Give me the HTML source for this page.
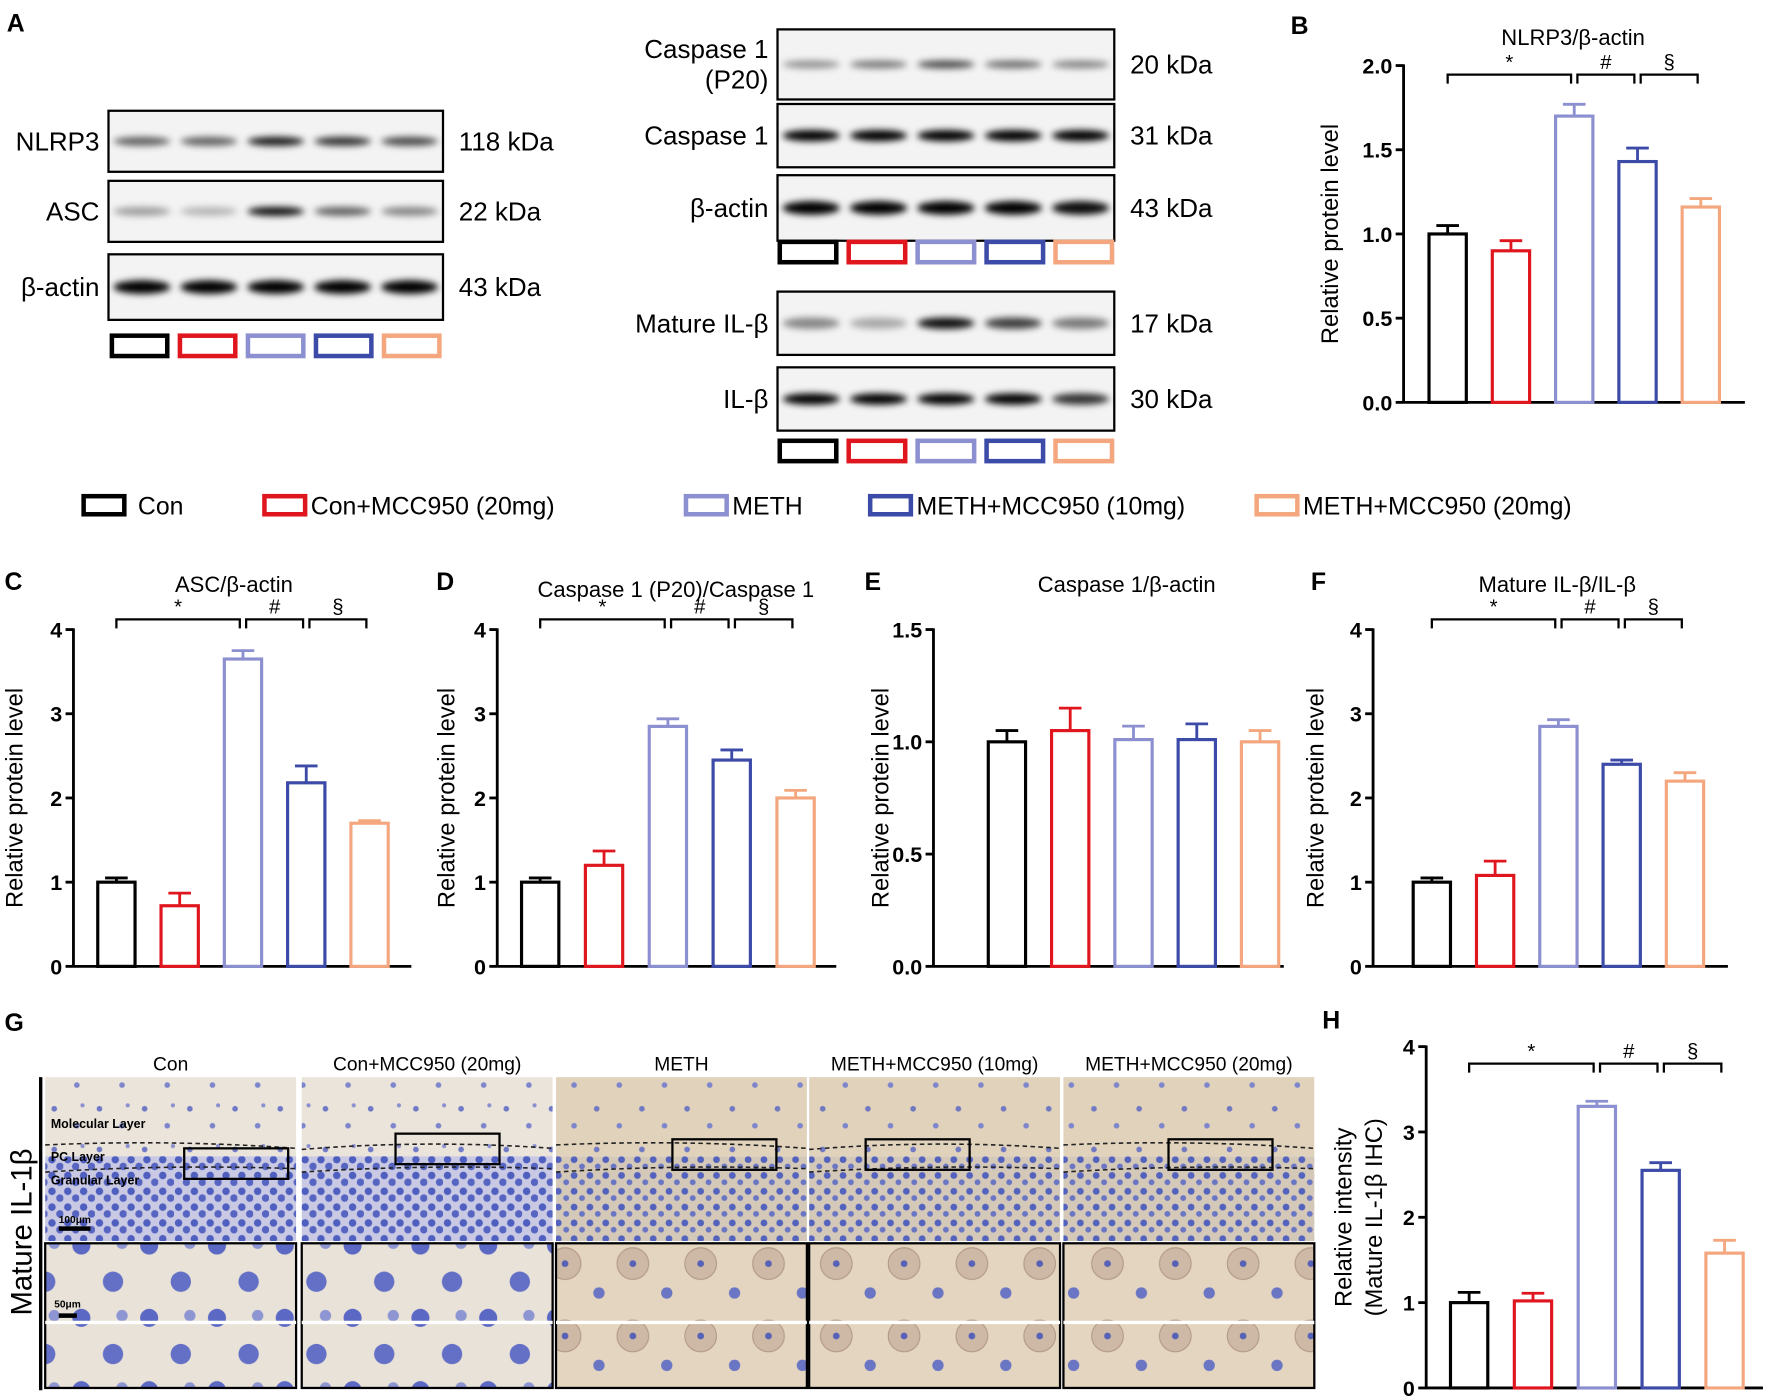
<!DOCTYPE html>
<html><head><meta charset="utf-8">
<style>
html,body{margin:0;padding:0;background:#fff;}
svg{display:block;font-family:"Liberation Sans",Arial,sans-serif;}
</style></head>
<body>
<svg id="fig" width="1772" height="1397" viewBox="0 0 1568 1236" preserveAspectRatio="none" xmlns="http://www.w3.org/2000/svg">
<defs>
<filter id="blur" x="-20%" y="-100%" width="140%" height="300%"><feGaussianBlur stdDeviation="3"/></filter>
<pattern id="sparse" width="40" height="36" patternUnits="userSpaceOnUse">
<rect width="40" height="36" fill="#ebe4da"/>
<circle cx="8" cy="9" r="2.5" fill="#6f79c6"/><circle cx="28" cy="24" r="2.5" fill="#7d86cc"/><circle cx="33" cy="6" r="1.8" fill="#8a90cf"/>
</pattern>
<pattern id="sparseM" width="40" height="36" patternUnits="userSpaceOnUse">
<rect width="40" height="36" fill="#e0d2bb"/>
<circle cx="8" cy="9" r="2.5" fill="#7079c2"/><circle cx="28" cy="24" r="2.5" fill="#7d86cc"/>
</pattern>
<pattern id="dense" width="14" height="14" patternUnits="userSpaceOnUse">
<rect width="14" height="14" fill="#c9c9e4"/>
<circle cx="4" cy="4" r="3.3" fill="#4f5fbf"/><circle cx="11" cy="10" r="3.3" fill="#5765c2"/>
</pattern>
<pattern id="denseM" width="14" height="14" patternUnits="userSpaceOnUse">
<rect width="14" height="14" fill="#d4c8b8"/>
<circle cx="4" cy="4" r="3" fill="#5262bd"/><circle cx="11" cy="10" r="2.6" fill="#6a75c4"/>
</pattern>
<pattern id="zoomC" width="60" height="64" patternUnits="userSpaceOnUse">
<rect width="60" height="64" fill="#e9e2d8"/>
<circle cx="12" cy="14" r="8" fill="#5b68c4"/><circle cx="40" cy="46" r="9" fill="#6470c6"/><circle cx="48" cy="12" r="5" fill="#8d95d2"/>
</pattern>
<pattern id="zoomM" width="60" height="64" patternUnits="userSpaceOnUse">
<rect width="60" height="64" fill="#e3d5c0"/>
<circle cx="20" cy="30" r="14" fill="#cdb9a6" stroke="#b49a86"/><circle cx="20" cy="30" r="3" fill="#5762b6"/>
<circle cx="50" cy="56" r="5" fill="#6a75c4"/>
</pattern>
</defs>
<g id="root"></g>
</svg>
<script>
// ---- data ----
const groups = ["Con","Con+MCC950 (20mg)","METH","METH+MCC950 (10mg)","METH+MCC950 (20mg)"];
const colors = ["#000000","#e0161f","#8c8fd0","#3c4aa8","#f4a77e"];
const bVals = [1.00,0.90,1.70,1.43,1.16];
const bErr  = [0.05,0.06,0.07,0.08,0.05];
const cVals = [1.00,0.72,3.65,2.18,1.70];
const cErr  = [0.05,0.15,0.10,0.20,0.03];
const dVals = [1.00,1.20,2.85,2.45,2.00];
const dErr  = [0.05,0.17,0.09,0.12,0.09];
const eVals = [1.00,1.05,1.01,1.01,1.00];
const eErr  = [0.05,0.10,0.06,0.07,0.05];
const fVals = [1.00,1.08,2.85,2.40,2.20];
const fErr  = [0.05,0.17,0.08,0.05,0.10];
const hVals = [1.00,1.02,3.30,2.55,1.58];
const hErr  = [0.12,0.09,0.06,0.09,0.15];
const ticks4 = ["0","1","2","3","4"];
const ticks2 = ["0.0","0.5","1.0","1.5","2.0"];
const ticks15 = ["0.0","0.5","1.0","1.5"];

const NS="http://www.w3.org/2000/svg";
const root=document.getElementById('root');
function el(tag,attrs,parent,text){const e=document.createElementNS(NS,tag);for(const k in attrs)e.setAttribute(k,attrs[k]);if(text!==undefined)e.textContent=text;(parent||root).appendChild(e);return e;}

function chart(cfg){
  const g=el('g',{});
  
  
  const y=v=>cfg.y0-(v/cfg.max)*(cfg.y0-cfg.yTop);
  const x=i=>cfg.x0+cfg.first+i*cfg.step;
  const ya=el('line',{x1:cfg.x0,y1:cfg.yTop-1,x2:cfg.x0,y2:cfg.y0+1,stroke:'#000','stroke-width':2.5},g);
  
  
  const xa=el('line',{x1:cfg.x0,y1:cfg.y0,x2:cfg.xEnd,y2:cfg.y0,stroke:'#000','stroke-width':2.5},g);
  
  
  cfg.ticks.forEach((t,i)=>{
    const v=i*cfg.tickStep, yy=y(v);
    el('line',{x1:cfg.x0-7,y1:yy,x2:cfg.x0,y2:yy,stroke:'#000','stroke-width':2.5},g);
    const tl=el('text',{x:cfg.x0-10,y:yy+7,'text-anchor':'end','font-size':19,'font-weight':'bold'},g,t);
    
    
  });
  cfg.vals.forEach((v,i)=>{
    const cx=x(i), hw=cfg.bw/2, top=y(v), et=y(v+cfg.err[i]);
    const b=el('rect',{x:cx-hw,y:top,width:cfg.bw,height:cfg.y0-top,fill:'none',stroke:colors[i],'stroke-width':2.8},g);
    
    
    const eb=el('path',{d:`M${cx},${top}V${et}M${cx-10},${et}H${cx+10}`,stroke:colors[i],'stroke-width':2.5,fill:'none'},g);
    
    
  });
  const tt=el('text',{x:cfg.titleX,y:cfg.titleY,'text-anchor':'middle','font-size':19.5},g,cfg.title);
  
  
  cfg.ylab.forEach((s,k)=>{
    const yx=cfg.ylabX+k*27, yc=(cfg.yTop+cfg.y0)/2;
    const yt=el('text',{x:yx,y:yc,'text-anchor':'middle','font-size':21,transform:`rotate(-90 ${yx} ${yc})`},g,s);
    
    
  });
  const pl=el('text',{x:cfg.letterX,y:cfg.letterY,'font-size':22,'font-weight':'bold'},g,cfg.letter);
  
  
  if(cfg.sig){
    const by=cfg.sigY;
    const br=(a,b,sym)=>{
      const x1=x(a),x2=x(b);
      const p=el('path',{d:`M${x1},${by+8}V${by}H${x2}V${by+8}`,stroke:'#000','stroke-width':2,fill:'none'},g);
      
      
      const s=el('text',{x:(x1+x2)/2,y:by-5,'text-anchor':'middle','font-size':18},g,sym);
      
      
    };
    br(0,1.95,'*');br(2.05,2.95,'#');br(3.05,3.95,'§');
  }
}
chart({name:'chart-b-nlrp3',letter:'B',letterX:1142,letterY:30,x0:1242,y0:356,yTop:58,max:2,tickStep:0.5,ticks:ticks2,first:39,step:56,bw:33,xEnd:1544,vals:bVals,err:bErr,title:'NLRP3/β-actin',titleX:1392,titleY:40,ylab:['Relative protein level'],ylabX:1184,sig:true,sigY:66});
chart({name:'chart-c-asc',letter:'C',letterX:4,letterY:522,x0:65,y0:855,yTop:557,max:4,tickStep:1,ticks:ticks4,first:38,step:56,bw:33,xEnd:364,vals:cVals,err:cErr,title:'ASC/β-actin',titleX:207,titleY:524,ylab:['Relative protein level'],ylabX:20,sig:true,sigY:548});
chart({name:'chart-d-caspase-p20',letter:'D',letterX:386,letterY:522,x0:440,y0:855,yTop:557,max:4,tickStep:1,ticks:ticks4,first:38,step:56.5,bw:33,xEnd:740,vals:dVals,err:dErr,title:'Caspase 1 (P20)/Caspase 1',titleX:598,titleY:528,ylab:['Relative protein level'],ylabX:402,sig:true,sigY:548});
chart({name:'chart-e-caspase1',letter:'E',letterX:765,letterY:522,x0:826,y0:855,yTop:557,max:1.5,tickStep:0.5,ticks:ticks15,first:65,step:56,bw:33,xEnd:1136,vals:eVals,err:eErr,title:'Caspase 1/β-actin',titleX:997,titleY:524,ylab:['Relative protein level'],ylabX:786,sig:false});
chart({name:'chart-f-il1b',letter:'F',letterX:1160,letterY:522,x0:1215,y0:855,yTop:557,max:4,tickStep:1,ticks:ticks4,first:52,step:56,bw:33,xEnd:1529,vals:fVals,err:fErr,title:'Mature IL-β/IL-β',titleX:1378,titleY:524,ylab:['Relative protein level'],ylabX:1171,sig:true,sigY:548});
chart({name:'chart-h-ihc',letter:'H',letterX:1170,letterY:910,x0:1262,y0:1228,yTop:926,max:4,tickStep:1,ticks:ticks4,first:38,step:56.5,bw:33,xEnd:1560,vals:hVals,err:hErr,title:'',titleX:0,titleY:0,ylab:['Relative intensity','(Mature IL-1β IHC)'],ylabX:1196,sig:true,sigY:941});

// ---- western blots ----
const bandLanes=[0.1,0.3,0.5,0.7,0.9];
function blot(name,x,y,w,h,kda,intens,thick,lblLines){
  const g=el('g',{});
  
  
  el('rect',{x:x,y:y,width:w,height:h,fill:'#f3f3f3',stroke:'#000','stroke-width':2},g);
  bandLanes.forEach((p,i)=>{
    el('ellipse',{cx:x+w*p,cy:y+h/2,rx:w*0.085,ry:thick,fill:'#000','fill-opacity':intens[i],filter:'url(#blur)'},g);
  });
  lblLines.forEach((s,k)=>{
    el('text',{x:x-8,y:y+h/2+8+(k-(lblLines.length-1)/2)*27,'text-anchor':'end','font-size':23},g,s);
  });
  el('text',{x:x+w+14,y:y+h/2+8,'font-size':23},g,kda);
}
blot('blot-nlrp3',96,98,296,54,"118 kDa",[0.6,0.6,0.9,0.8,0.7],4,['NLRP3']);
blot('blot-asc',96,160,296,54,"22 kDa",[0.35,0.25,0.95,0.6,0.45],4,['ASC']);
blot('blot-bactin-left',96,225,296,58,"43 kDa",[1,1,1,1,1],6,['β-actin']);
blot('blot-casp-p20',688,26,298,62,"20 kDa",[0.4,0.5,0.7,0.55,0.45],3.5,['Caspase 1','(P20)']);
blot('blot-casp1',688,92,298,56,"31 kDa",[1,1,1,1,1],5,['Caspase 1']);
blot('blot-bactin-right',688,155,298,58,"43 kDa",[1,1,1,1,0.95],6,['β-actin']);
blot('blot-mature-il1b',688,258,298,56,"17 kDa",[0.45,0.3,0.95,0.75,0.5],5,['Mature IL-β']);
blot('blot-il1b',688,325,298,56,"30 kDa",[1,1,1,1,0.8],5,['IL-β']);

function laneKeys(x0,y,w,gap){
  colors.forEach((c,i)=>{
    const r=el('rect',{x:x0+i*(w+gap)+2,y:y+2,width:w-4,height:18,fill:'#fff',stroke:c,'stroke-width':4});
    
    
  });
}
laneKeys(97,295,53,7.2);
laneKeys(688,212,54,7);
laneKeys(688,388,54,7);
const aL=el('text',{x:6,y:28,'font-size':22,'font-weight':'bold'},root,'A');



// ---- legend ----
const legX=[72,232,605,768,1110];
groups.forEach((gname,i)=>{
  const r=el('rect',{x:legX[i]+2,y:439,width:36,height:16,fill:'#fff',stroke:colors[i],'stroke-width':4});
  
  
  const t=el('text',{x:legX[i]+(i===0?50:43),y:455,'font-size':22},root,gname);
  
  
});

// ---- IHC panel G ----
const gl=el('text',{x:4,y:912,'font-size':22,'font-weight':'bold'},root,'G');


const colX=[40,267,492,716,941];
groups.forEach((gname,i)=>{
  const x=colX[i], w=222, m=(i>=2);
  const h=el('text',{x:x+w/2,y:947,'text-anchor':'middle','font-size':17},root,gname);
  
  
  const g=el('g',{});
  
  
  el('rect',{x:x,y:953,width:w,height:70,fill:m?'url(#sparseM)':'url(#sparse)'},g);
  el('rect',{x:x,y:1023,width:w,height:75,fill:m?'url(#denseM)':'url(#dense)'},g);
  el('path',{d:`M${x},${1013+i%2*4}Q${x+w/2},${1008} ${x+w},${1016}M${x},${1037}Q${x+w/2},${1030} ${x+w},${1034}`,stroke:'#222','stroke-width':1.4,'stroke-dasharray':'4 3',fill:'none'},g);
  const bx=[163,350,595,766,1034][i], byy=[1016,1003,1008,1008,1008][i];
  el('rect',{x:bx,y:byy,width:92,height:27,fill:'none',stroke:'#000','stroke-width':2},g);
  el('rect',{x:x,y:1100,width:w,height:128,fill:m?'url(#zoomM)':'url(#zoomC)',stroke:'#000','stroke-width':2},g);
  el('line',{x1:x,y1:1170,x2:x+w,y2:1170,stroke:'#fff','stroke-width':3},g);
});
[['Molecular Layer',998],['PC Layer',1027],['Granular Layer',1048]].forEach(([s,yy])=>{
  const t=el('text',{x:45,y:yy,'font-size':11,'font-weight':'bold'},root,s);
  
  
});
el('rect',{x:52,y:1085,width:28,height:4,fill:'#000'});
el('text',{x:52,y:1082,'font-size':9,'font-weight':'bold'},root,'100μm');
el('rect',{x:52,y:1162,width:16,height:4,fill:'#000'});
el('text',{x:48,y:1157,'font-size':9,'font-weight':'bold'},root,'50μm');
const vb=el('line',{x1:36,y1:953,x2:36,y2:1230,stroke:'#000','stroke-width':3});


const rl=el('text',{x:28,y:1090,'text-anchor':'middle','font-size':26,transform:'rotate(-90 28 1090)'},root,'Mature IL-1β');


</script>
</body></html>
